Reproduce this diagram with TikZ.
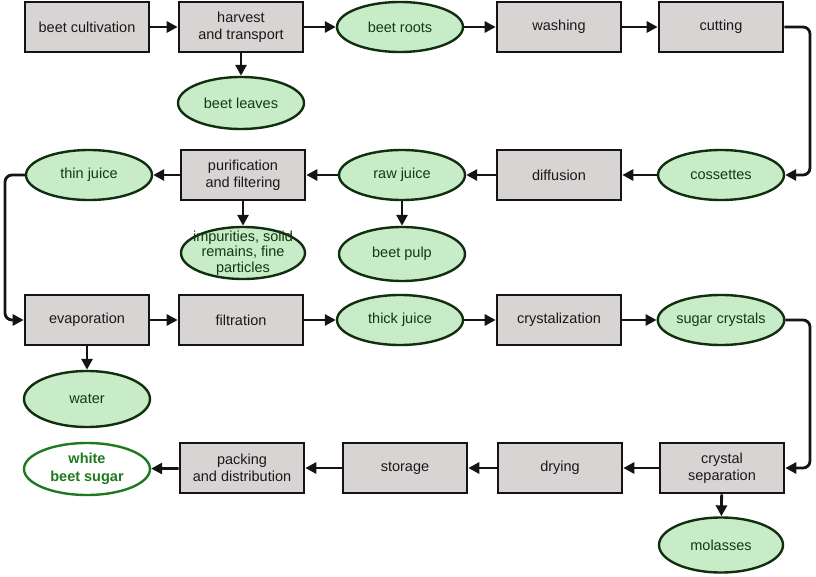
\documentclass[tikz,border=0pt]{standalone}
\usepackage{fontspec}
\setmainfont{Liberation Sans}
\usetikzlibrary{shapes.geometric,arrows.meta}
\definecolor{boxfill}{HTML}{D9D4D4}
\definecolor{boxline}{HTML}{141414}
\definecolor{ellfill}{HTML}{C8EBC8}
\definecolor{ellline}{HTML}{0F2F0F}
\definecolor{elltext}{HTML}{123A12}
\definecolor{endtext}{HTML}{1E7A1E}
\tikzset{
  stepbox/.style={draw=boxline, fill=boxfill, line width=2.6pt, minimum width=124pt, minimum height=50pt, inner sep=0pt, align=center, font=\fontsize{14.5}{17}\selectfont, text=black!90},
  product/.style={ellipse, draw=ellline, fill=ellfill, line width=2.4pt, minimum width=126pt, minimum height=50pt, inner sep=0pt, align=center, font=\fontsize{14.5}{15.5}\selectfont, text=elltext},
  final/.style={ellipse, draw=endtext, fill=white, line width=2.4pt, minimum width=126pt, minimum height=52pt, inner sep=0pt, align=center, font=\bfseries\fontsize{14.5}{18}\selectfont, text=endtext},
  flow/.style={line width=2.8pt, draw=black!92, -{Triangle[length=11pt,width=11pt]}, rounded corners=7pt},
}
\begin{document}
\begin{tikzpicture}[x=1pt,y=-1pt]
\useasboundingbox (0,0) rectangle (816,577);
% row 1
\node[stepbox] (cult) at (87,27) {beet cultivation};
\node[stepbox] (harv) at (241,27) {harvest\\and transport};
\node[product] (roots) at (400,27) {beet roots};
\node[stepbox] (wash) at (559,27) {washing};
\node[stepbox] (cut) at (721,27) {cutting};
\node[product, minimum height=52pt] (leaves) at (241,103) {beet leaves};
% row 2
\node[product] (thin) at (89,175) {thin juice};
\node[stepbox] (puri) at (243,175) {purification\\and filtering};
\node[product] (raw) at (402,175) {raw juice};
\node[stepbox] (diff) at (559,175) {diffusion};
\node[product] (coss) at (721,175) {cossettes};
\node[product, minimum width=124pt, minimum height=52pt, inner xsep=-14pt, inner ysep=-8pt] (imp) at (243,253) {impurities, solid\\remains, fine\\particles};
\node[product, minimum height=54pt] (pulp) at (402,254) {beet pulp};
% row 3
\node[stepbox] (evap) at (87,320) {evaporation};
\node[stepbox] (filt) at (241,320) {filtration};
\node[product] (thick) at (400,320) {thick juice};
\node[stepbox] (cryst) at (559,320) {crystalization};
\node[product] (sugar) at (721,320) {sugar crystals};
\node[product, minimum height=56pt] (water) at (87,399) {water};
% row 4
\node[final] (white) at (87,469) {white\\beet sugar};
\node[stepbox] (pack) at (242,468) {packing\\and distribution};
\node[stepbox] (stor) at (405,468) {storage};
\node[stepbox] (dry) at (560,468) {drying};
\node[stepbox] (sep) at (722,468) {crystal\\separation};
\node[product, minimum width=124pt, minimum height=55pt] (mol) at (721,545) {molasses};
% connectors
\draw[flow] (cult) -- (harv);
\draw[flow] (harv) -- (roots);
\draw[flow] (roots) -- (wash);
\draw[flow] (wash) -- (cut);
\draw[flow] (harv) -- (leaves);
\coordinate (r1) at (810,27);
\coordinate (r2) at (810,175);
\draw[flow] (cut.east) -- (r1) -- (r2) -- (coss.east);
\draw[flow] (coss) -- (diff);
\draw[flow] (diff) -- (raw);
\draw[flow] (raw) -- (puri);
\draw[flow] (puri) -- (thin);
\draw[flow] (puri) -- (imp);
\draw[flow] (raw) -- (pulp);
\coordinate (l1) at (5,175);
\coordinate (l2) at (5,320);
\draw[flow] (thin.west) -- (l1) -- (l2) -- (evap.west);
\draw[flow] (evap) -- (filt);
\draw[flow] (filt) -- (thick);
\draw[flow] (thick) -- (cryst);
\draw[flow] (cryst) -- (sugar);
\draw[flow] (evap) -- (water);
\coordinate (s1) at (810,320);
\coordinate (s2) at (810,468);
\draw[flow] (sugar.east) -- (s1) -- (s2) -- (sep.east);
\draw[flow] (sep) -- (dry);
\draw[flow] (dry) -- (stor);
\draw[flow] (stor) -- (pack);
\draw[flow] (pack) -- (white);
\draw[flow] (sep) -- (mol);
\end{tikzpicture}
\end{document}
